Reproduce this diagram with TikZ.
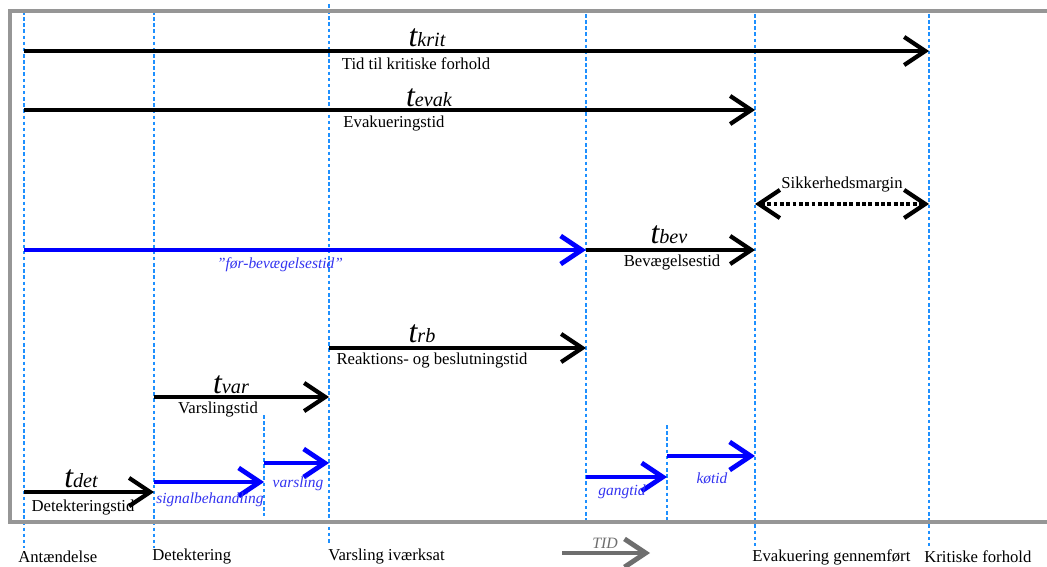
\documentclass[tikz,border=0pt]{standalone}
\usepackage{fontspec}
\setmainfont{Liberation Serif}[ItalicFont={Liberation Serif Italic}]
\usetikzlibrary{arrows.meta}
\definecolor{rammegraa}{RGB}{150,150,150}
\definecolor{tidgraa}{RGB}{110,110,110}
\definecolor{linjeblaa}{RGB}{30,144,255}
\definecolor{tekstblaa}{RGB}{51,51,240}
\newcommand{\tsym}[1]{{\fontsize{18}{18}\selectfont\itshape t}{\fontsize{11.5}{11.5}\selectfont\itshape #1}}
\tikzset{
  pil/.style = {line width=2.4pt, -{Straight Barb[length=12pt, width=16pt]}},
  blaapil/.style = {pil, blue, line width=2.7pt},
  tidslinje/.style = {linjeblaa, line width=0.6pt, dash pattern=on 2pt off 1.5pt},
  tekst/.style = {font=\fontsize{9.5}{11}\selectfont, inner sep=0pt},
  blaatekst/.style = {tekst, tekstblaa, font=\fontsize{8.8}{11}\selectfont\itshape},
}
\begin{document}
\begin{tikzpicture}[x=0.02cm, y=-0.02cm]
\useasboundingbox (0,0) rectangle (1047,567);

\foreach \x/\ya/\yb in {24/11/548, 154/11/548, 329/4/545, 264/415/516, 586/14/522, 667/425/522, 755/14/548, 929/14/548}
   \draw[tidslinje] (\x,\ya) -- (\x,\yb);
\draw[rammegraa, line width=2.8pt] (1047,11) -- (10,11) -- (10,522) -- (1047,522);

% pile
\foreach \navn/\xa/\xb/\yy/\stil in {krit/24/929/51/pil, evak/24/755/110/pil, bev/586/755/250/pil, rb/329/586/348/pil, var/154/329/397/pil, det/24/154/492/pil, foer/24/586/250/blaapil, signal/154/264/482/blaapil, varsl/264/329/463/blaapil, gang/586/667/477/blaapil, koe/667/755/456/blaapil}{
   \coordinate (\navn-a) at (\xa,\yy);
   \coordinate (\navn-b) at (\xb,\yy);
   \draw[\stil] (\navn-a) -- (\navn-b);
   }
\coordinate (margin-a) at (755,204);
\coordinate (margin-b) at (929,204);
\draw[pil, dash pattern=on 2.2pt off 1.4pt, {Straight Barb[length=12pt, width=16pt]}-{Straight Barb[length=12pt, width=16pt]}] (margin-a) -- (margin-b);
\coordinate (tid-a) at (562,553);
\coordinate (tid-b) at (650,553);
\draw[pil, tidgraa, line width=2.8pt] (tid-a) -- (tid-b);

% etiketter
\node[inner sep=0pt] (krit-t) at (427,38) {\tsym{krit}};
\node[tekst] (krit-tekst) at (416,64) {Tid til kritiske forhold};
\node[inner sep=0pt] (evak-t) at (429,98) {\tsym{evak}};
\node[tekst] (evak-tekst) at (394,124) {Evakueringstid};
\node[tekst] (margin-tekst) at (842,185) {Sikkerhedsmargin};
\node[inner sep=0pt] (bev-t) at (669,235) {\tsym{bev}};
\node[tekst] (bev-tekst) at (672,263) {Bevægelsestid};
\node[blaatekst] (foer-tekst) at (280,265) {"før-bevægelsestid"};
\node[inner sep=0pt] (rb-t) at (422,334) {\tsym{rb}};
\node[tekst] (rb-tekst) at (432,361) {Reaktions- og beslutningstid};
\node[inner sep=0pt] (var-t) at (231,385) {\tsym{var}};
\node[tekst] (var-tekst) at (218,410) {Varslingstid};
\node[inner sep=0pt] (det-t) at (81,479) {\tsym{det}};
\node[tekst] (det-tekst) at (83,508) {Detekteringstid};
\node[blaatekst] (signal-tekst) at (210,500) {signalbehandling};
\node[blaatekst] (varsl-tekst) at (298,484) {varsling};
\node[blaatekst] (gang-tekst) at (622,492) {gangtid};
\node[blaatekst] (koe-tekst) at (712,478) {køtid};
\node[tekst, tidgraa, font=\fontsize{9}{11}\selectfont\itshape] (tid-tekst) at (605,543) {TID};

% haendelser
\foreach \navn/\x/\tekst in {antaend/18/Antændelse, detekt/152/Detektering, varsel/328/Varsling iværksat, evakueret/752/Evakuering gennemført, kritisk/924/Kritiske forhold}
   \node[tekst, anchor=west] (\navn) at (\x,557) {\tekst};
\end{tikzpicture}
\end{document}
